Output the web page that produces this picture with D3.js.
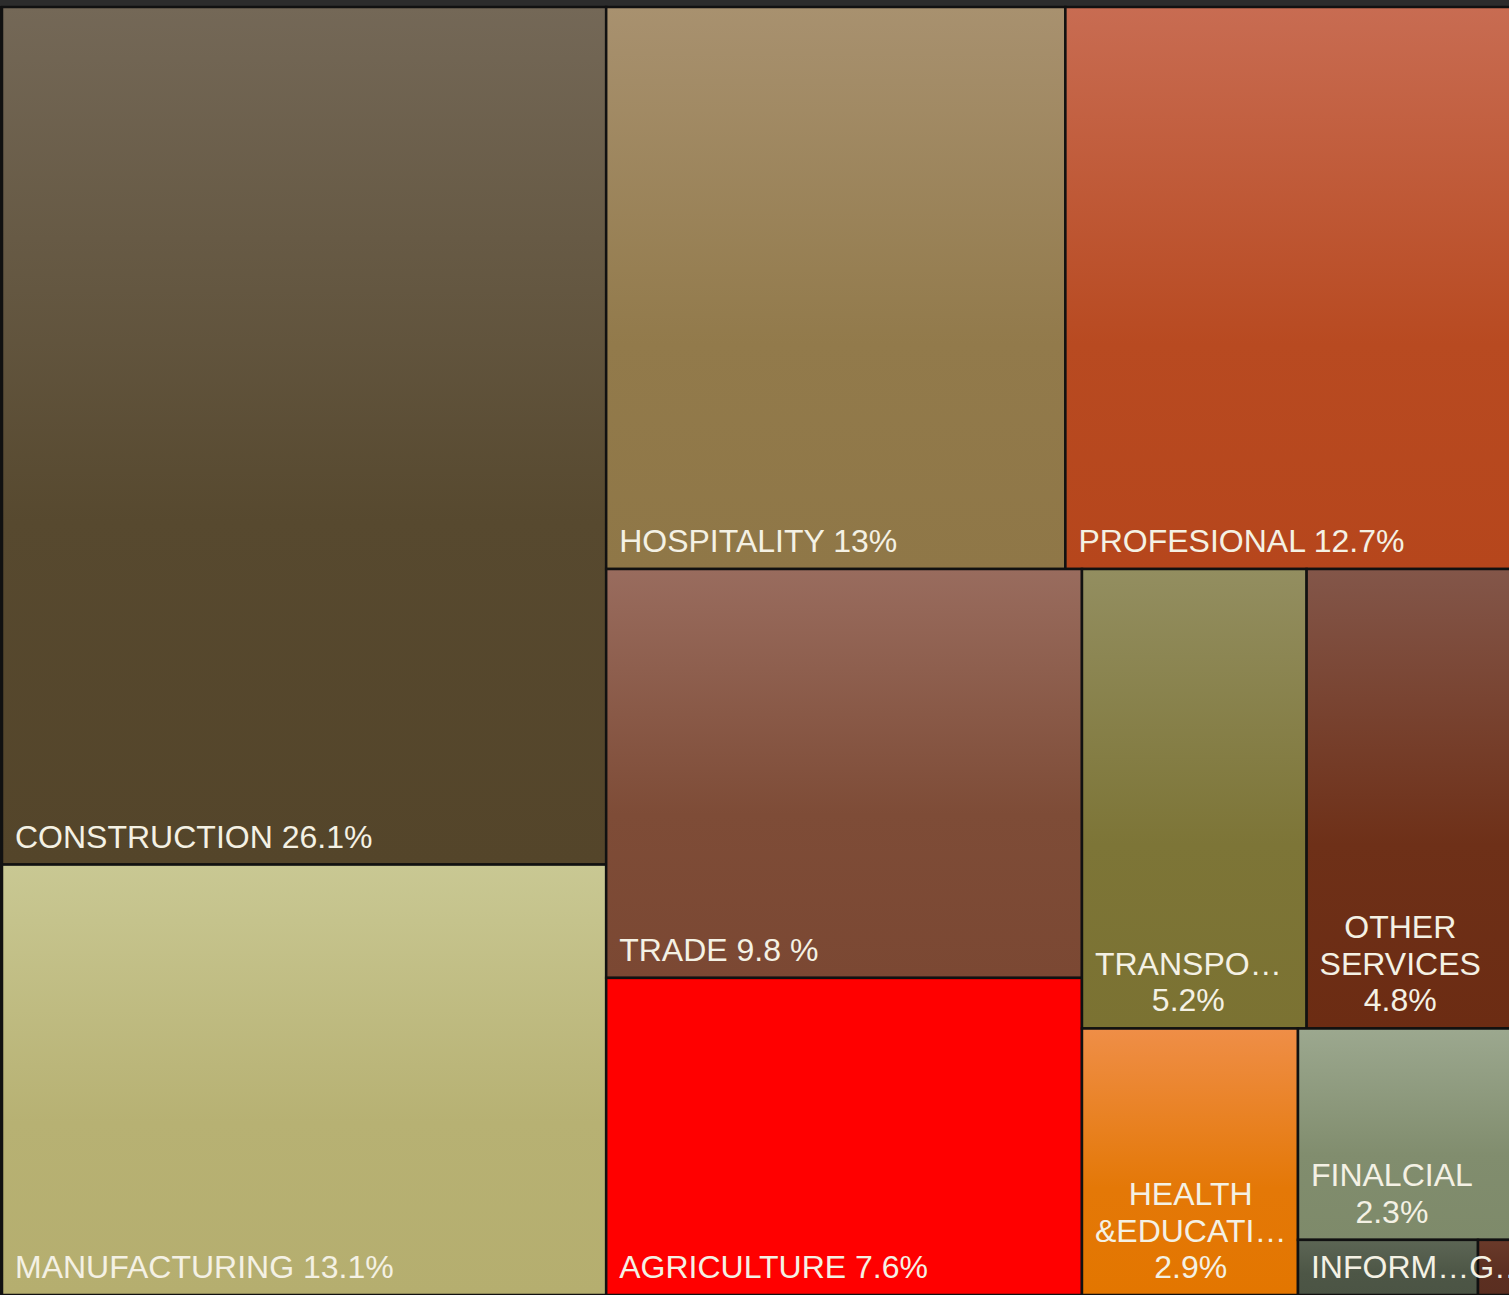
<!DOCTYPE html>
<html><head><meta charset="utf-8">
<script src="https://cdn.jsdelivr.net/npm/d3@7"></script>
<style>html,body{margin:0;padding:0;background:#2b2b2b;overflow:hidden}</style>
</head><body>
<svg id="chart" width="1509" height="1295"></svg>
<script>
const categories = ["CONSTRUCTION","MANUFACTURING","HOSPITALITY","PROFESIONAL","TRADE","AGRICULTURE","TRANSPORT","OTHER SERVICES","HEALTH & EDUCATION","FINALCIAL","INFORMATION","G"];
const values = [26.1, 13.1, 13, 12.7, 9.8, 7.6, 5.2, 4.8, 2.9, 2.3, 0.5, 0.1];
const labelLines = [
  ["CONSTRUCTION 26.1%"], ["MANUFACTURING 13.1%"], ["HOSPITALITY 13%"], ["PROFESIONAL 12.7%"],
  ["TRADE 9.8 %"], ["AGRICULTURE 7.6%"], ["TRANSPO…", "5.2%"], ["OTHER", "SERVICES", "4.8%"],
  ["HEALTH", "&EDUCATI…", "2.9%"], ["FINALCIAL", "2.3%"], ["INFORM…G…"], []
];
const topColors = ["#746857","#c9c893","#a8916f","#c86c52","#996c5e","#ff0000","#938e60","#835649","#ef8e47","#9ca88f","#5d6655","#6a3a2a"];
const bottomColors = ["#54452a","#b5ae6f","#8f7747","#b6461c","#7b4833","#ff0000","#7b7232","#6c2c13","#e37600","#7e8a6a","#4b5444","#5a2e20"];
// grouping of category indices that gives the tile arrangement
const nesting = [[0, 1], [[2, 3], [[4, 5], [[6, 7], [8, [9, [10, 11]]]]]]];

const svg = d3.select("#chart");
const defs = svg.append("defs");
categories.forEach((c, i) => {
  const g = defs.append("linearGradient").attr("id", "grad" + i)
    .attr("x1", 0).attr("y1", 0).attr("x2", 0).attr("y2", 1);
  g.append("stop").attr("offset", "0%").attr("stop-color", topColors[i]);
  g.append("stop").attr("offset", "60%").attr("stop-color", d3.interpolateRgb(topColors[i], bottomColors[i])(0.9));
  g.append("stop").attr("offset", "100%").attr("stop-color", bottomColors[i]);
});

function toNode(n) { return Array.isArray(n) ? { children: n.map(toNode) } : { index: n }; }
const root = d3.hierarchy(toNode(nesting)).sum(d => d.index !== undefined ? values[d.index] : 0);
d3.treemap().tile(d3.treemapSliceDice).size([1512, 1288]).round(false)(root);

svg.append("rect").attr("x", 0).attr("y", 0).attr("width", 1509).attr("height", 6).attr("fill", "#2c2c2c");
const chart = svg.append("g").attr("transform", "translate(2,7)");

const leaves = root.leaves();
chart.append("g").selectAll("rect").data(leaves).join("rect")
  .attr("x", d => d.x0).attr("y", d => d.y0)
  .attr("width", d => d.x1 - d.x0).attr("height", d => d.y1 - d.y0)
  .attr("fill", d => `url(#grad${d.data.index})`)
  .attr("stroke", "#111").attr("stroke-width", 2.5);

const lineH = 36.5;
const labelLayer = chart.append("g");
leaves.forEach(d => {
  const lines = labelLines[d.data.index];
  if (!lines.length) return;
  const t = labelLayer.append("text")
    .attr("font-family", "'Liberation Sans', Arial, sans-serif")
    .attr("font-size", 32).attr("fill", "#f4f1e4");
  const spans = lines.map((l, i) => t.append("tspan").text(l)
    .attr("y", d.y1 - 17 - (lines.length - 1 - i) * lineH));
  if (lines.length === 1) {
    spans[0].attr("x", d.x0 + 13);
  } else {
    let maxW = 0;
    spans.forEach(s => { maxW = Math.max(maxW, s.node().getComputedTextLength()); });
    const cx = d.x0 + 13 + maxW / 2;
    t.attr("text-anchor", "middle");
    spans.forEach(s => s.attr("x", cx));
  }
});
svg.append("rect").attr("x", 0).attr("y", 6).attr("width", 2).attr("height", 1289).attr("fill", "#111");
</script>
</body></html>
